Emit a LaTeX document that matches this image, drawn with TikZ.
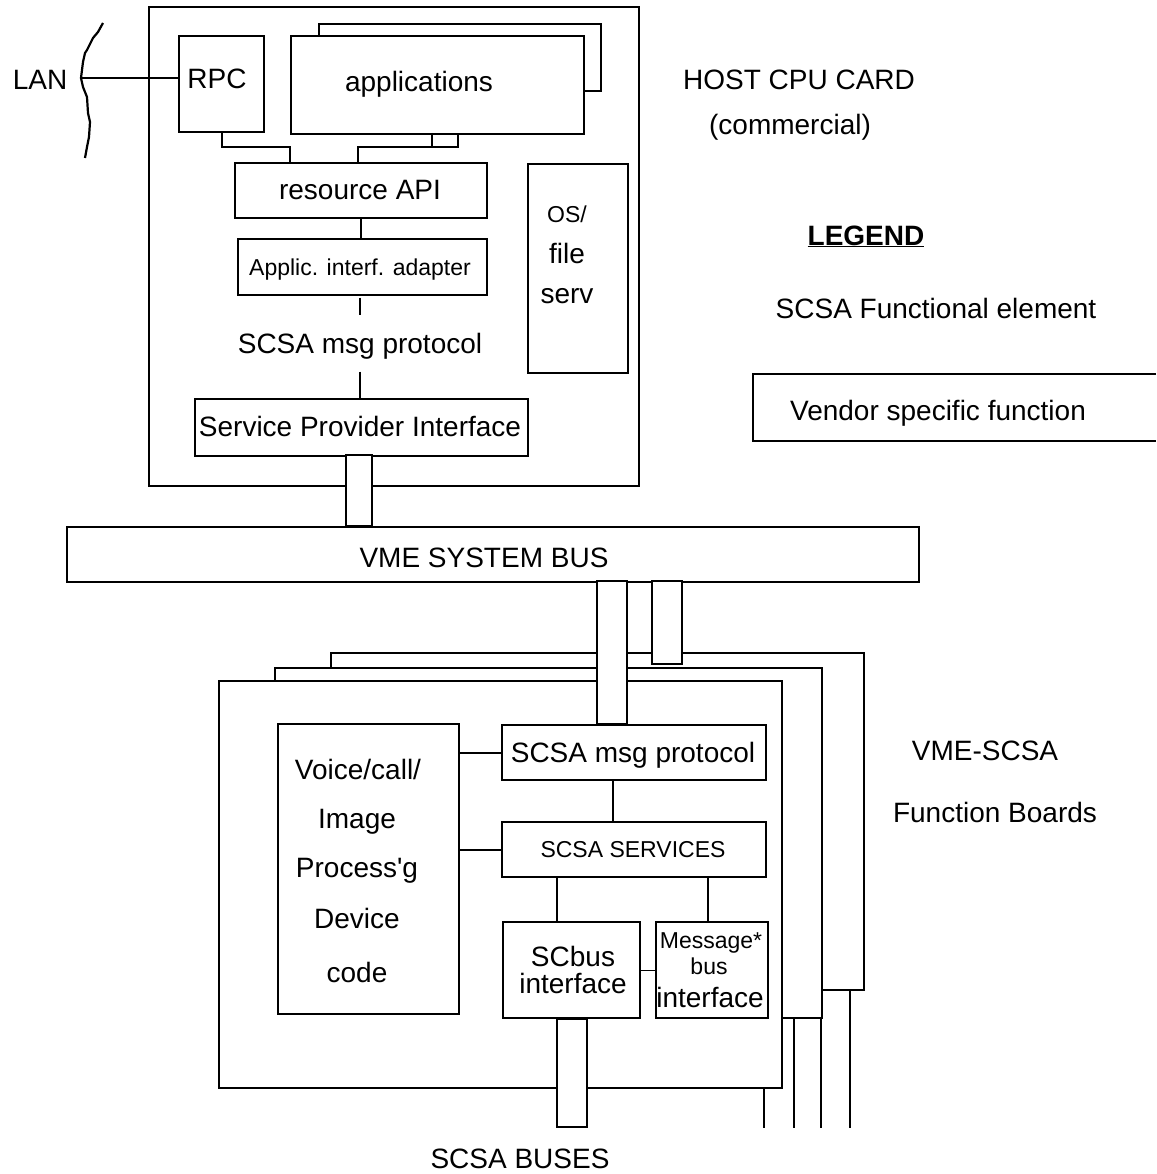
\documentclass[tikz,border=0pt]{standalone}
\usepackage{fontspec}
\setmainfont{Liberation Sans}
\usetikzlibrary{calc}
\begin{document}
\begin{tikzpicture}[x=1pt,y=-1pt,line width=2pt,
  box/.style={draw,fill=white,inner sep=0pt,anchor=north west},
  big/.style={font=\fontsize{28}{30}\selectfont,inner sep=0pt,text height=20pt,text depth=0pt},
  small/.style={font=\fontsize{23}{25}\selectfont,inner sep=0pt,text height=16.5pt,text depth=0pt},
  wire/.style={line width=2pt},
  thinwire/.style={line width=1pt},
  busc/.style={draw,fill=white,line width=2pt}]
\useasboundingbox (0,0) rectangle (1156,1174);

% ---------------- HOST CPU CARD ----------------
\node[box,minimum width=490,minimum height=479] (host) at (148,6) {};
\node[box,minimum width=282,minimum height=67] (appback) at (318,23) {};
\node[box,minimum width=293,minimum height=98] (app) at (290,35) {};
\node[big] (apptext) at (419,82) {applications};
\node[box,minimum width=85,minimum height=96] (rpc) at (178,35) {};
\node[big] (rpctext) at (217,79) {RPC};
\node[box,minimum width=252,minimum height=55] (api) at (234,162) {};
\node[big] (apitext) at (360,190) {resource API};
\node[box,minimum width=249,minimum height=56] (adapter) at (237,238) {};
\node[small] (adaptertext) at (360,267) {Applic. interf. adapter};
\node[box,minimum width=100,minimum height=209] (os) at (527,163) {};
\node[small] (ostext1) at (567,214) {OS/};
\node[big] (ostext2) at (567,253) {file};
\node[big] (ostext3) at (567,293) {serv};
\node[big,minimum height=55] (hmsg) at (360,343) {SCSA msg protocol};
\node[box,minimum width=333,minimum height=57] (spi) at (194,398) {};
\node[big] (spitext) at (360,426) {Service Provider Interface};

% LAN
\node[big] (lan) at (40,80) {LAN};
\draw[line width=2.2pt] (103,23) -- (98,32) -- (93,38) -- (87,50) -- (85,53) -- (83,62) -- (81,78) -- (83,87) -- (87,97) -- (88,113) -- (90,122) -- (89,137) -- (87,147) -- (85,158);
\coordinate (lanp) at (80,78);
\draw[wire] (lanp) -- (lanp -| rpc.west);

% host internal connectors
\draw[wire] (rpc.south) |- (290,147) -- (290,162);
\draw[wire] (432,133) -- (432,147) -- (458,147) -- (458,133);
\draw[wire] (432,147) -- (358,147) -- (358,162);
\draw[wire] (api.south) -- (api.south |- adapter.north);
\draw[wire] ($(hmsg.north)+(0,-17)$) -- (hmsg.north);
\draw[wire] (hmsg.south) -- (hmsg.south |- spi.north);

% host labels
\node[big] (hosttitle) at (799,80) {HOST CPU CARD};
\node[big] (commercial) at (790,125) {(commercial)};

% ---------------- LEGEND ----------------
\node[font=\fontsize{28}{30}\selectfont\bfseries,inner sep=0pt,anchor=base] (legend) at (866,245) {\underline{LEGEND}};
\node[big] (functional) at (936,308) {SCSA Functional element};
\draw[wire] (1156,374) -- (753,374) -- (753,441) -- (1156,441);
\node[big] (vendor) at (938,410) {Vendor specific function};

% ---------------- VME BUS ----------------
\node[box,minimum width=852,minimum height=55] (vme) at (66,526) {};
\node[big] (vmetext) at (484,557) {VME SYSTEM BUS};
\draw[busc] (346,455) rectangle (372,526);

% ---------------- FUNCTION BOARDS ----------------
\node[box,minimum width=533,minimum height=337] (b3) at (330,652) {};
\node[box,minimum width=547,minimum height=350] (b2) at (274,667) {};
\node[box,minimum width=563,minimum height=407] (b1) at (218,680) {};
\draw[wire] (764,1087) -- (764,1128);
\draw[wire] (794,1017) -- (794,1128);
\draw[wire] (821,1017) -- (821,1128);
\draw[wire] (850,989) -- (850,1128);

\node[box,minimum width=181,minimum height=290] (voice) at (277,723) {};
\node[big] (v1) at (358,769) {Voice/call/};
\node[big] (v2) at (357,818) {Image};
\node[big] (v3) at (357,867) {Process\textquotesingle g};
\node[big] (v4) at (357,918) {Device};
\node[big] (v5) at (357,972) {code};

\node[box,minimum width=264,minimum height=55] (bmsg) at (501,724) {};
\node[big] (bmsgtext) at (633,752) {SCSA msg protocol};
\node[box,minimum width=264,minimum height=55] (serv) at (501,821) {};
\node[small] (servtext) at (633,849) {SCSA SERVICES};
\node[box,minimum width=137,minimum height=96] (scbus) at (502,921) {};
\node[big] (sc1) at (573,956) {SCbus};
\node[big] (sc2) at (573,983) {interface};
\node[box,minimum width=112,minimum height=96] (mbus) at (655,921) {};
\node[small] (mb1) at (711,940) {Message*};
\node[small] (mb2) at (709,966) {bus};
\node[big] (mb3) at (710,997) {interface};

\draw[wire] (voice.east |- bmsg.west) -- (bmsg.west);
\draw[wire] (voice.east |- serv.west) -- (serv.west);
\draw[wire] (613,779) -- (613,821);
\draw[wire] (557,876) -- (557,921);
\draw[wire] (708,876) -- (708,921);
\draw[thinwire] (scbus.east) -- (mbus.west);

% bus connectors
\draw[busc] (597,581) rectangle (627,724);
\draw[busc] (652,581) rectangle (682,664);
\draw[busc] (557,1019) rectangle (587,1127);

\node[big] (vmescsa) at (985,750) {VME-SCSA};
\node[big] (fboards) at (995,812) {Function Boards};
\node[big] (buses) at (520,1158) {SCSA BUSES};
\end{tikzpicture}
\end{document}
